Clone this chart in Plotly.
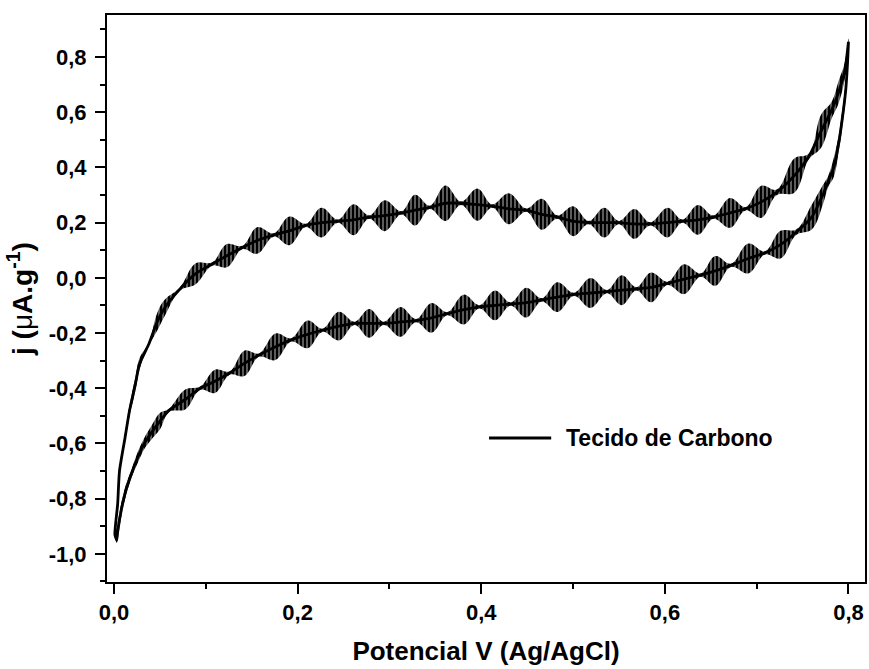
import plotly.graph_objects as go

# Cyclic voltammogram of carbon cloth, split into the anodic (forward) and
# cathodic (return) sweeps. Each sweep holds the mean current density and the
# half-height of the periodic ripple superimposed on it (nodes ~0, bursts ~0.05).
forward_v = [0.001, 0.004, 0.006, 0.012, 0.017, 0.023, 0.028, 0.038, 0.047, 0.055,
             0.072, 0.089, 0.107, 0.123, 0.140, 0.156, 0.174, 0.191, 0.209, 0.226,
             0.244, 0.261, 0.278, 0.295, 0.313, 0.328, 0.344, 0.361, 0.378, 0.396,
             0.412, 0.430, 0.449, 0.466, 0.483, 0.500, 0.517, 0.534, 0.550, 0.567,
             0.584, 0.603, 0.619, 0.636, 0.653, 0.671, 0.688, 0.705, 0.722, 0.741,
             0.757, 0.770, 0.782, 0.789, 0.796, 0.800]
forward_j = [-0.93, -0.82, -0.70, -0.58, -0.48, -0.39, -0.31, -0.24, -0.16, -0.11,
             -0.04, 0.015, 0.05, 0.08, 0.11, 0.135, 0.155, 0.17, 0.19, 0.20,
             0.205, 0.21, 0.22, 0.225, 0.235, 0.245, 0.255, 0.27, 0.27, 0.265,
             0.26, 0.25, 0.245, 0.23, 0.22, 0.205, 0.20, 0.20, 0.20, 0.195,
             0.195, 0.20, 0.205, 0.21, 0.22, 0.235, 0.25, 0.275, 0.31, 0.37,
             0.44, 0.53, 0.61, 0.67, 0.75, 0.855]
forward_ripple = [0.01, 0.02, 0.015, 0.015, 0.02, 0.025, 0.02, 0.006, 0.032, 0.03,
                  0.006, 0.038, 0.006, 0.042, 0.006, 0.048, 0.006, 0.052, 0.006, 0.054,
                  0.006, 0.056, 0.006, 0.056, 0.006, 0.056, 0.006, 0.064, 0.006, 0.058,
                  0.006, 0.056, 0.006, 0.056, 0.006, 0.054, 0.006, 0.054, 0.006, 0.054,
                  0.006, 0.054, 0.006, 0.054, 0.006, 0.054, 0.006, 0.058, 0.01, 0.062,
                  0.01, 0.06, 0.03, 0.04, 0.03, 0.012]

reverse_v = [0.800, 0.799, 0.797, 0.793, 0.789, 0.784, 0.778, 0.772, 0.760, 0.743,
             0.726, 0.709, 0.691, 0.672, 0.655, 0.639, 0.621, 0.603, 0.585, 0.569,
             0.553, 0.537, 0.519, 0.501, 0.483, 0.466, 0.449, 0.432, 0.415, 0.398,
             0.381, 0.363, 0.346, 0.329, 0.312, 0.294, 0.278, 0.262, 0.245, 0.227,
             0.211, 0.193, 0.176, 0.158, 0.142, 0.126, 0.110, 0.094, 0.078, 0.060,
             0.050, 0.041, 0.033, 0.026, 0.019, 0.013, 0.008, 0.004, 0.003, 0.001]
reverse_j = [0.855, 0.78, 0.68, 0.57, 0.48, 0.40, 0.35, 0.30, 0.22, 0.165,
             0.12, 0.09, 0.07, 0.045, 0.025, 0.01, -0.005, -0.02, -0.035, -0.04,
             -0.045, -0.05, -0.055, -0.06, -0.07, -0.08, -0.09, -0.095, -0.10, -0.105,
             -0.115, -0.13, -0.145, -0.155, -0.16, -0.165, -0.165, -0.165, -0.175, -0.19,
             -0.205, -0.225, -0.25, -0.28, -0.31, -0.345, -0.375, -0.40, -0.44, -0.48,
             -0.52, -0.56, -0.60, -0.65, -0.71, -0.77, -0.84, -0.92, -0.95, -0.93]
reverse_ripple = [0.012, 0.02, 0.03, 0.03, 0.03, 0.035, 0.02, 0.035, 0.045, 0.01,
                  0.05, 0.006, 0.054, 0.006, 0.054, 0.006, 0.054, 0.006, 0.054, 0.006,
                  0.054, 0.006, 0.054, 0.006, 0.054, 0.006, 0.054, 0.006, 0.054, 0.006,
                  0.054, 0.006, 0.054, 0.006, 0.054, 0.006, 0.052, 0.006, 0.052, 0.006,
                  0.05, 0.006, 0.048, 0.006, 0.046, 0.006, 0.042, 0.006, 0.036, 0.006,
                  0.03, 0.025, 0.02, 0.02, 0.015, 0.02, 0.025, 0.03, 0.01, 0.01]

x_ticks = [0.0, 0.2, 0.4, 0.6, 0.8]
x_labels = ["0,0", "0,2", "0,4", "0,6", "0,8"]
y_ticks = [-1.0, -0.8, -0.6, -0.4, -0.2, 0.0, 0.2, 0.4, 0.6, 0.8]
y_labels = ["-1,0", "-0,8", "-0,6", "-0,4", "-0,2", "0,0", "0,2", "0,4", "0,6", "0,8"]
series_name = "Tecido de Carbono"

FONT = "Arial, Liberation Sans, sans-serif"

fig = go.Figure()

# ripple bands: hatched regions between mean + ripple and mean - ripple
for v, j, r in ((forward_v, forward_j, forward_ripple),
                (reverse_v, reverse_j, reverse_ripple)):
    top = [a + b for a, b in zip(j, r)]
    bottom = [a - b for a, b in zip(j, r)]
    fig.add_trace(go.Scatter(
        x=v + v[::-1], y=top + bottom[::-1],
        mode="lines", fill="toself",
        line=dict(width=0, color="black", shape="spline", smoothing=1.1),
        fillpattern=dict(shape="|", fgcolor="black", bgcolor="rgba(0,0,0,0)",
                         size=4, solidity=0.82, fillmode="replace"),
        hoverinfo="skip", showlegend=False,
    ))

# mean trace of the full cycle
fig.add_trace(go.Scatter(
    x=forward_v + reverse_v, y=forward_j + reverse_j,
    mode="lines", name=series_name,
    line=dict(color="black", width=2.8, shape="spline", smoothing=0.6),
    showlegend=False,
))

# legend sample drawn as a line plus label inside the plot area
fig.add_shape(type="line", xref="paper", yref="paper",
              x0=0.504, x1=0.586, y0=0.254, y1=0.254,
              line=dict(color="black", width=2.8))
fig.add_annotation(xref="paper", yref="paper", x=0.603, y=0.254,
                   xanchor="left", yanchor="middle", showarrow=False,
                   text=series_name,
                   font=dict(family=FONT, size=23, color="black", weight="bold"))

axis_common = dict(
    showgrid=False, zeroline=False,
    showline=True, linecolor="black", linewidth=2, mirror=True,
    ticks="outside", ticklen=10, tickwidth=2, tickcolor="black",
    tickfont=dict(family=FONT, size=22, color="black", weight="bold"),
)

fig.update_xaxes(
    range=[-0.0076, 0.818], tickmode="array", tickvals=x_ticks, ticktext=x_labels,
    minor=dict(ticks="outside", ticklen=5, tickwidth=2, tickcolor="black", dtick=0.1,
               tick0=0, showgrid=False),
    title=dict(text="Potencial V (Ag/AgCl)", standoff=17,
               font=dict(family=FONT, size=26, color="black", weight="bold")),
    **axis_common,
)
fig.update_yaxes(
    range=[-1.102, 0.952], tickmode="array", tickvals=y_ticks, ticktext=y_labels,
    minor=dict(ticks="outside", ticklen=5, tickwidth=2, tickcolor="black", dtick=0.1,
               tick0=0, showgrid=False),
    ticklabelstandoff=4,
    title=dict(text="j (<span style='font-weight:normal'>\u03bc</span>A.g<sup>-1</sup>)",
               standoff=8,
               font=dict(family=FONT, size=28, color="black", weight="bold")),
    **axis_common,
)

fig.update_layout(
    width=869, height=669,
    margin=dict(l=107, r=2, t=15, b=87),
    paper_bgcolor="white", plot_bgcolor="white",
    showlegend=False,
)

fig.write_html("out.html")
